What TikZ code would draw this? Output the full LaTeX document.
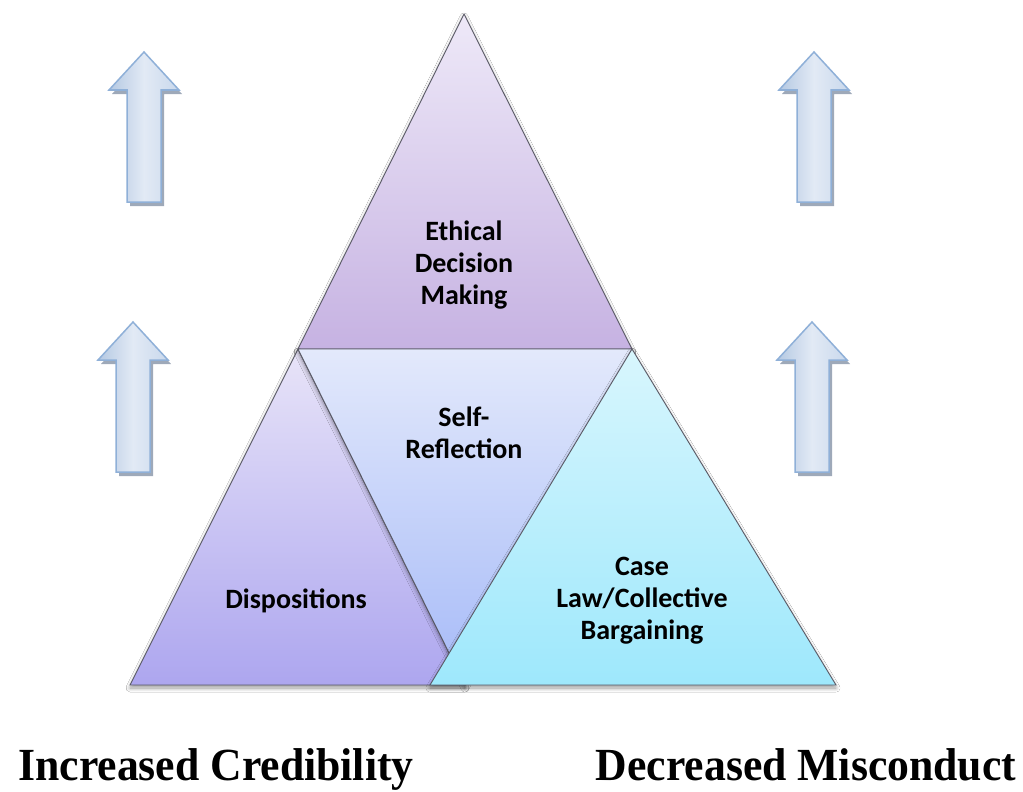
\documentclass[tikz,border=0pt]{standalone}
\usepackage{fontspec}
\setmainfont{Carlito}
\newfontfamily\capfont[FakeStretch=0.95]{Liberation Serif}
\usetikzlibrary{shadows.blur}
\definecolor{topA}{HTML}{EEE9F8}
\definecolor{topB}{HTML}{C6B2E2}
\definecolor{midA}{HTML}{E3E9FB}
\definecolor{midB}{HTML}{A6BAF8}
\definecolor{leftA}{HTML}{E8E4F8}
\definecolor{leftB}{HTML}{ADA6EF}
\definecolor{rightA}{HTML}{D8F6FD}
\definecolor{rightB}{HTML}{9EE8FC}
\definecolor{edge}{HTML}{5A5A66}
\definecolor{arrL}{HTML}{B4C8E2}
\definecolor{arrM}{HTML}{E2EAF5}
\definecolor{arrR}{HTML}{C9D8EC}
\definecolor{arrEdge}{HTML}{8FB0D8}
\definecolor{arrShadow}{HTML}{8E9BAD}
\tikzset{
  tri/.style={draw=edge, line width=0.9pt, line join=miter,
    blur shadow={shadow xshift=0pt, shadow yshift=-3pt, shadow blur radius=4pt, shadow blur steps=8, shadow opacity=40}},
  lbl/.style={font=\fontsize{28}{32}\selectfont\bfseries, align=center, text=black, inner sep=0pt},
  captxt/.style={font=\capfont\bfseries\fontsize{46}{54}\selectfont, text=black, inner sep=0pt},
  arrbody/.style={draw=arrEdge, line width=1.5pt, line join=miter, left color=arrL, right color=arrR, middle color=arrM},
  arrshade/.style={fill=arrShadow, opacity=0.85},
  uparr/.pic={
    \fill[arrshade] (3,4) -- (38,42) -- (20,42) -- (20,154) -- (-14,154) -- (-14,42) -- (-32,42) -- cycle;
    \path[arrbody] (0,0) -- (35,38) -- (17,38) -- (17,150) -- (-17,150) -- (-17,38) -- (-35,38) -- cycle;
  }
}
\begin{document}
\begin{tikzpicture}[x=1pt,y=-1pt]
\useasboundingbox (0,0) rectangle (1023,792);
\fill[white] (0,0) rectangle (1023,792);

\coordinate (A) at (464,14);
\coordinate (BL) at (298,349);
\coordinate (BR) at (632,349);
\coordinate (L1) at (130,685);
\coordinate (L2) at (465,685);
\coordinate (R1) at (430,685);
\coordinate (R2) at (836,685);

% arrows
\pic at (144,52) {uparr};
\pic at (133,322) {uparr};
\pic at (814,52) {uparr};
\pic at (812,322) {uparr};

% triangles
\path[tri, top color=topA, bottom color=topB] (A) -- (BR) -- (BL) -- cycle;
\path[tri, top color=leftA, bottom color=leftB] (BL) -- (L2) -- (L1) -- cycle;
\path[tri, top color=midA, bottom color=midB] (BL) -- (BR) -- (L2) -- cycle;
\path[tri, top color=rightA, bottom color=rightB] (BR) -- (R2) -- (R1) -- cycle;

% labels
\node[lbl] (ethical) at (464,265) {Ethical\\Decision\\Making};
\node[lbl] (self) at (464,433) {Self-\\Reflection};
\node[lbl] (disp) at (296,601) {Dispositions};
\node[lbl] (case) at (642,601) {Case\\Law/Collective\\Bargaining};

\node[captxt, anchor=base] (cred) at (216,780) {Increased Credibility};
\node[captxt, anchor=base] (misc) at (806,780) {Decreased Misconduct};
\end{tikzpicture}
\end{document}
